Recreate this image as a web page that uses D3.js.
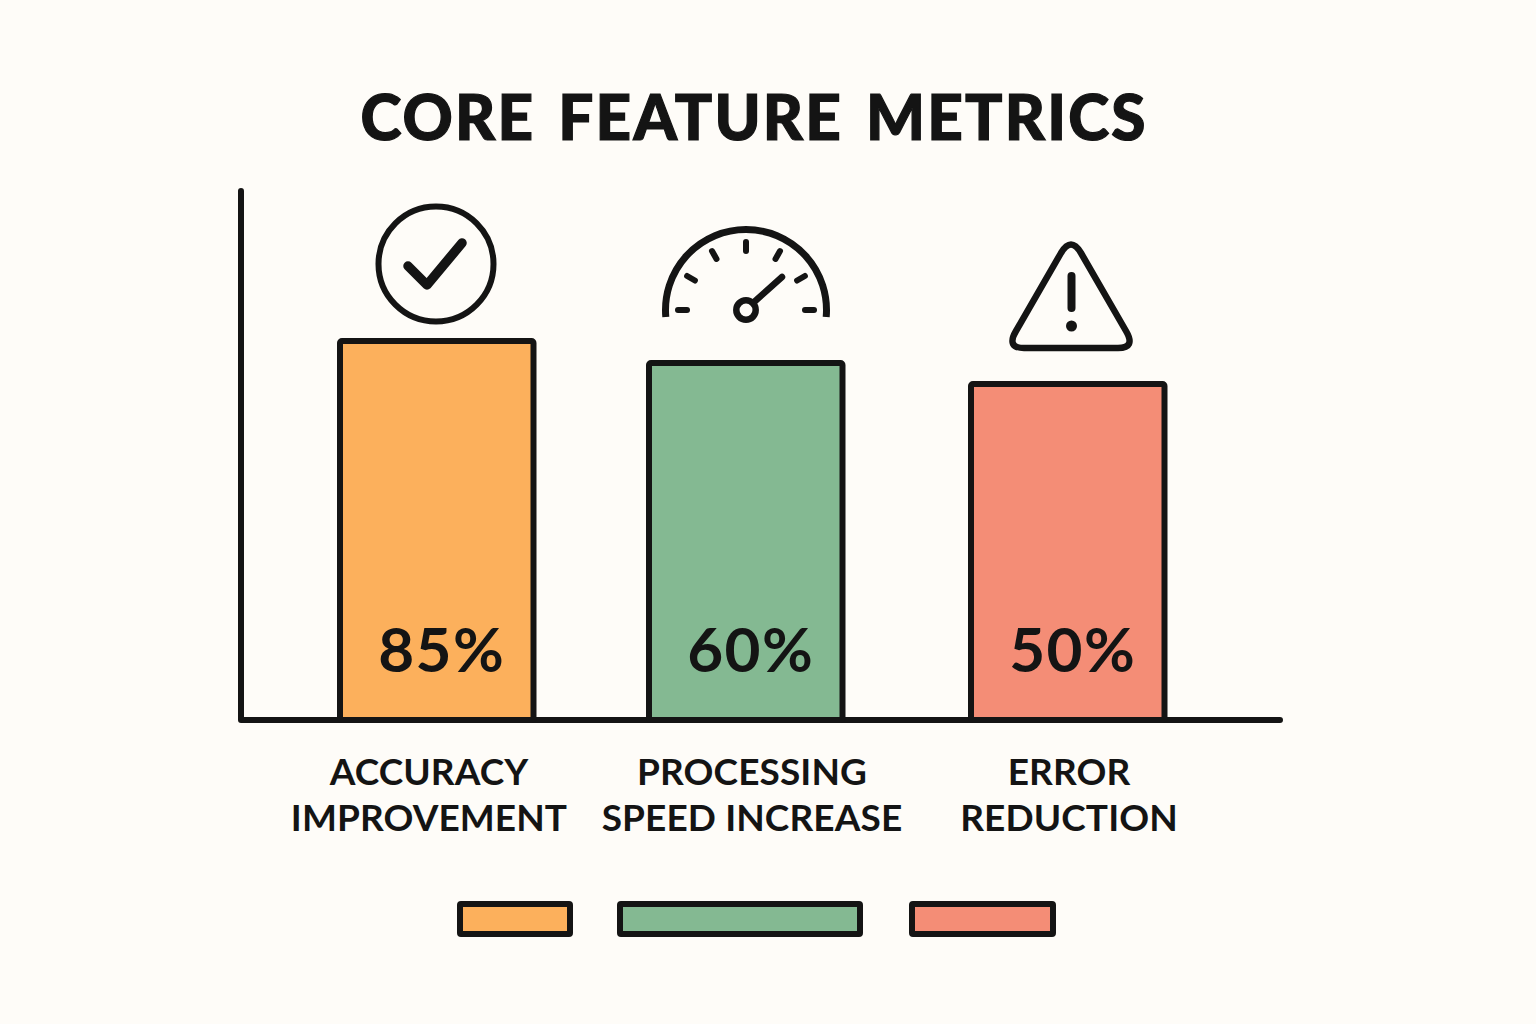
<!DOCTYPE html>
<html>
<head>
<meta charset="utf-8">
<script src="https://cdn.jsdelivr.net/npm/d3@7/dist/d3.min.js"></script>
<style>
  html, body { margin: 0; padding: 0; background: #fefcf8; }
  svg { display: block; }
  text { font-family: "Lato", sans-serif; fill: #141414; }
</style>
</head>
<body>
<div id="chart"></div>
<script>
var categories = ["accuracy", "speed", "error"];
var values = [85, 60, 50];
var labels = [["ACCURACY", "IMPROVEMENT"], ["PROCESSING", "SPEED INCREASE"], ["ERROR", "REDUCTION"]];
var colors = ["#fcb05c", "#84b992", "#f48d76"];

var width = 1536, height = 1024;
var ink = "#141414";

var svg = d3.select("#chart").append("svg")
    .attr("width", width)
    .attr("height", height);

// bars in the picture are not proportional, so the scale is piecewise
var y = d3.scaleLinear().domain([0, 50, 60, 85]).range([720, 384, 363, 341]);
var xLeft = d3.scaleOrdinal().domain(categories).range([340, 649, 971]);
var barWidth = 193.5;

svg.append("text")
    .text("CORE FEATURE METRICS")
    .attr("x", 753).attr("y", 140)
    .attr("text-anchor", "middle")
    .attr("textLength", 785)
    .attr("lengthAdjust", "spacing")
    .style("font-size", "62px")
    .style("font-weight", 900)
    .style("word-spacing", "6px")
    .style("stroke", ink)
    .style("stroke-width", "1.2px");

// axes
svg.append("path")
    .attr("d", "M241,191V720H1280")
    .attr("fill", "none")
    .attr("stroke", ink)
    .attr("stroke-width", 6)
    .attr("stroke-linecap", "round")
    .attr("stroke-linejoin", "round");

svg.selectAll(".bar").data(categories).enter().append("rect")
    .attr("class", "bar")
    .attr("x", d => xLeft(d))
    .attr("y", (d, i) => y(values[i]))
    .attr("width", barWidth)
    .attr("height", (d, i) => y(0) - y(values[i]))
    .attr("rx", 2)
    .attr("fill", (d, i) => colors[i])
    .attr("stroke", ink)
    .attr("stroke-width", 6);

svg.selectAll(".value").data(categories).enter().append("text")
    .attr("class", "value")
    .text((d, i) => values[i] + "%")
    .attr("x", d => xLeft(d) + barWidth / 2 + 5)
    .attr("y", 672)
    .attr("text-anchor", "middle")
    .style("font-size", "62px")
    .style("font-weight", 700)
    .style("letter-spacing", "1.5px");

var labelCenter = [429, 752, 1069];
categories.forEach(function(c, i) {
    svg.append("text")
        .attr("text-anchor", "middle")
        .style("font-size", "37px")
        .style("font-weight", 700)
        .style("letter-spacing", "0.1px")
        .selectAll("tspan").data(labels[i]).enter().append("tspan")
        .text(d => d)
        .attr("x", labelCenter[i])
        .attr("y", (d, j) => 785 + j * 46);
});

// legend swatches
var legendX = [460, 620, 912], legendW = [110, 240, 141];
svg.selectAll(".swatch").data(categories).enter().append("rect")
    .attr("class", "swatch")
    .attr("x", (d, i) => legendX[i])
    .attr("y", 904)
    .attr("width", (d, i) => legendW[i])
    .attr("height", 30)
    .attr("rx", 1)
    .attr("fill", (d, i) => colors[i])
    .attr("stroke", ink)
    .attr("stroke-width", 6);

// check icon
var check = svg.append("g").attr("transform", "translate(436,264)");
check.append("circle").attr("r", 57.5).attr("fill", "none").attr("stroke", ink).attr("stroke-width", 6);
check.append("path").attr("d", "M-28,2L-9,21L26,-21")
    .attr("fill", "none").attr("stroke", ink).attr("stroke-width", 9.5)
    .attr("stroke-linecap", "round").attr("stroke-linejoin", "round");

// gauge icon
var gauge = svg.append("g").attr("transform", "translate(746,310)")
    .attr("fill", "none").attr("stroke", ink).attr("stroke-linecap", "round");
gauge.append("path").attr("d", d3.arc()({innerRadius: 80.5, outerRadius: 80.5, startAngle: -95 * Math.PI / 180, endAngle: 95 * Math.PI / 180}))
    .attr("stroke-width", 7);
[-90, -60, -30, 0, 30, 60, 90].forEach(function(a) {
    var r = a * Math.PI / 180;
    gauge.append("line")
        .attr("x1", 59 * Math.sin(r)).attr("y1", -59 * Math.cos(r))
        .attr("x2", 68 * Math.sin(r)).attr("y2", -68 * Math.cos(r))
        .attr("stroke-width", 6);
});
gauge.append("circle").attr("r", 9.7).attr("stroke-width", 6.5);
gauge.append("line").attr("x1", 7).attr("y1", -7).attr("x2", 36).attr("y2", -33).attr("stroke-width", 6.5);

// warning icon
var warn = svg.append("g");
warn.append("path").attr("d", "M1061,253Q1071,236 1081,253L1126,331Q1136,348 1118,348L1024,348Q1006,348 1016,331Z")
    .attr("fill", "none").attr("stroke", ink).attr("stroke-width", 6.5)
    .attr("stroke-linejoin", "round");
warn.append("line").attr("x1", 1071.5).attr("y1", 276).attr("x2", 1071.5).attr("y2", 308)
    .attr("stroke", ink).attr("stroke-width", 8).attr("stroke-linecap", "round");
warn.append("circle").attr("cx", 1071.5).attr("cy", 326).attr("r", 5.5).attr("fill", ink);
</script>
</body>
</html>
